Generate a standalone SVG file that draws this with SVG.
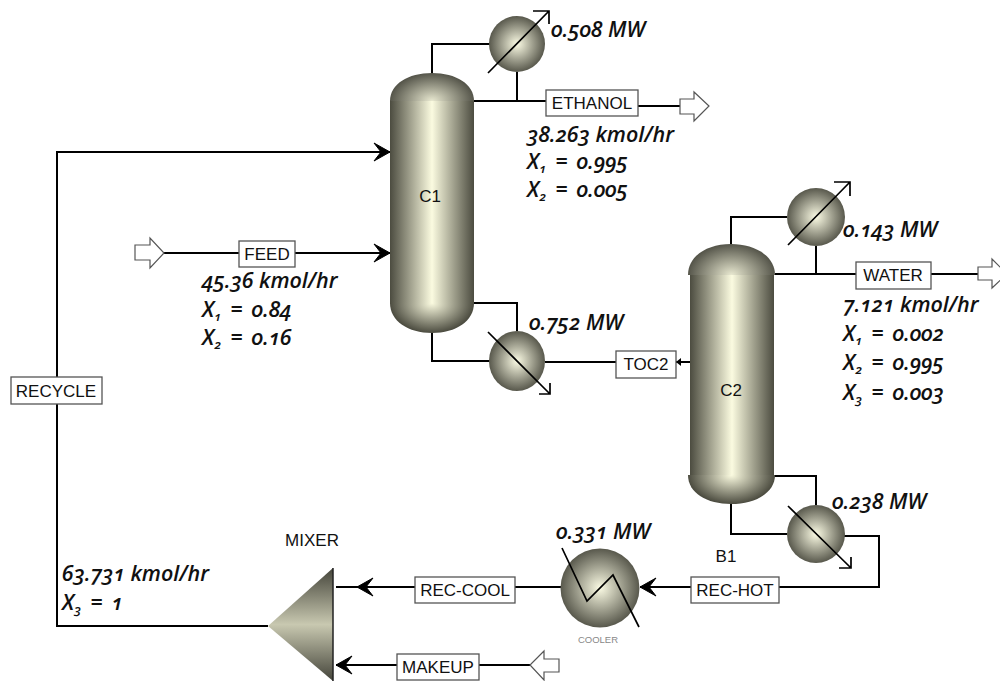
<svg xmlns="http://www.w3.org/2000/svg" width="1000" height="681" viewBox="0 0 1000 681">
<style>
.p{fill:none;stroke:#000;stroke-width:2}
.t{fill:none;stroke:#000;stroke-width:1.7}
.b{fill:#fff;stroke:#555;stroke-width:1.3}
.h{fill:#fff;stroke:#555;stroke-width:1.2}
.l{font-family:"Liberation Sans",Arial,sans-serif;font-size:17px;fill:#111;text-anchor:middle}
.q{font-family:"Open Sans",sans-serif;font-style:italic;font-weight:600;font-size:21.5px;fill:#111;font-variant-numeric:oldstyle-nums}
.x{word-spacing:3.5px}
.s{font-size:13px}
.c{fill:url(#col)}
.o{fill:url(#sph)}
</style>
<defs>
<linearGradient id="col" x1="0" x2="1" y1="0" y2="0"><stop offset="0" stop-color="#4c4c40"/><stop offset=".5" stop-color="#fbfbe0"/><stop offset="1" stop-color="#4c4c40"/></linearGradient>
<radialGradient id="top" cx=".5" cy="1" r="1" gradientTransform="translate(.5 1) scale(.5 1) translate(-.5 -1)"><stop offset="0" stop-color="#e8e8d0"/><stop offset="1" stop-color="#55554a"/></radialGradient>
<radialGradient id="bot" cx=".5" cy="0" r="1" gradientTransform="translate(.5 0) scale(.5 1) translate(-.5 0)"><stop offset="0" stop-color="#fbfbe0"/><stop offset="1" stop-color="#4c4c40"/></radialGradient>
<radialGradient id="sph" cx=".5" cy=".5" r=".5"><stop offset="0" stop-color="#fbfbe4"/><stop offset="1" stop-color="#58584c"/></radialGradient>
<linearGradient id="mix" x1="0" x2="0" y1="0" y2="1"><stop offset="0" stop-color="#44443a"/><stop offset=".5" stop-color="#c8c8b0"/><stop offset="1" stop-color="#44443a"/></linearGradient>
<marker id="bar" viewBox="0 0 18 20" refX="17" refY="10" markerWidth="18" markerHeight="20" markerUnits="userSpaceOnUse" orient="auto"><path d="M1 1 L17 10 L1 19 L8 10 Z" fill="#000" stroke="#000" stroke-width="1"/></marker>
</defs>

<g id="connectors">
<path class="p" d="M432 73V44H490"/>
<path class="p" d="M517 72V101"/>
<path class="p" d="M474 101H546"/>
<path class="p" d="M638 106H680"/>
<path class="p" d="M731 244V217H787"/>
<path class="p" d="M816 246V274"/>
<path class="p" d="M775 274H856"/>
<path class="p" d="M931 274H978"/>
<path class="p" d="M474 303H517V331"/>
<path class="p" d="M432 333V361H490"/>
<path class="p" d="M545 362H616"/>
<path class="p" d="M690 362H676"/>
<path d="M676 362L681 358V366Z"/>
<path class="p" d="M774 476H816V505"/>
<path class="p" d="M731 504V534H787"/>
<path class="p" d="M843 536H879V587H779"/>
<path class="p" d="M691 587H640" marker-end="url(#bar)"/>
<path class="p" d="M561 587H515"/>
<path class="p" d="M415 587H357" marker-end="url(#bar)"/>
<path class="p" d="M336 587H357"/>
<path class="p" d="M397 665H336" marker-end="url(#bar)"/>
<path class="p" d="M530 665H479"/>
<path class="p" d="M268 626H57V152H390" marker-end="url(#bar)"/>
<path class="p" d="M164 253H239"/>
<path class="p" d="M295 253H390" marker-end="url(#bar)"/>
</g>

<g id="C1">
<rect class="c" x="390" y="100" width="84" height="204"/>
<path d="M390 101C390 84 408 73 432 73C456 73 474 84 474 101Z" fill="url(#top)"/>
<path d="M390 303C390 321 408 333 432 333C456 333 474 321 474 303Z" fill="url(#bot)"/>
<text class="l" x="430" y="202">C1</text>
</g>
<g id="C2">
<rect class="c" x="690" y="274" width="84" height="202"/>
<path d="M688 275C688 256 707 244 731 244C755 244 775 256 775 275Z" fill="url(#top)"/>
<path d="M688 475C688 493 707 504 731 504C755 504 775 493 775 475Z" fill="url(#bot)"/>
<text class="l" x="731" y="396">C2</text>
</g>
<g id="COND1">
<circle class="o" cx="517" cy="44" r="28"/>
<path class="t" d="M488 73L549 11M533 11H549V24"/>
</g>
<g id="COND2">
<circle class="o" cx="816" cy="217" r="29"/>
<path class="t" d="M788 245L850 182M834 182H850V196"/>
</g>
<g id="REB1">
<ellipse class="o" cx="517" cy="361" rx="28" ry="30"/>
<path class="t" d="M488 332L550 394M539 394H550V383"/>
</g>
<g id="B1">
<circle class="o" cx="816" cy="534" r="29"/>
<path class="t" d="M788 506L851 568M839 568H851V557"/>
<text class="l" x="726" y="562">B1</text>
</g>
<g id="COOLER">
<circle class="o" cx="600" cy="588" r="39.5"/>
<path class="t" d="M562 548L587 601L613 575L639 627"/>
<text x="598" y="643" style="font-family:'Liberation Sans',sans-serif;font-size:9.5px;fill:#888;text-anchor:middle">COOLER</text>
</g>
<g id="MIXER">
<path d="M268 626L333 568V681Z" fill="url(#mix)"/>
<path d="M333 568V681" stroke="#222" stroke-width="1.5"/>
<text class="l" x="312" y="546">MIXER</text>
</g>

<g id="FEED"><path class="h" d="M135 245H150V238L164 253L150 268V260H135Z"/><rect class="b" x="239" y="241" width="56" height="26"/><text class="l" x="267" y="260">FEED</text></g>
<g id="ETHANOL"><rect class="b" x="546" y="90" width="92" height="26"/><text class="l" x="592" y="109">ETHANOL</text><path class="h" d="M680 99H694V92L709 106L694 121V114H680Z"/></g>
<g id="WATER"><rect class="b" x="856" y="262" width="75" height="27"/><text class="l" x="893" y="281">WATER</text><path class="h" d="M978 267H992V259L1007 274L992 288V280H978Z"/></g>
<g id="TOC2"><rect class="b" x="616" y="351" width="60" height="27"/><text class="l" x="646" y="370">TOC2</text></g>
<g id="RECYCLE"><rect class="b" x="11" y="377" width="91" height="27"/><text class="l" x="56" y="397">RECYCLE</text></g>
<g id="REC-HOT"><rect class="b" x="691" y="577" width="88" height="26"/><text class="l" x="735" y="596">REC-HOT</text></g>
<g id="REC-COOL"><rect class="b" x="415" y="577" width="100" height="26"/><text class="l" x="465" y="596">REC-COOL</text></g>
<g id="MAKEUP"><rect class="b" x="397" y="654" width="82" height="26"/><text class="l" x="438" y="673">MAKEUP</text><path class="h" d="M559 659H544V651L530 665L544 680V672H559Z"/></g>

<g id="labels">
<text class="q" x="551" y="37">0.508 MW</text>
<text class="q" x="527" y="142">38.263 kmol/hr</text>
<text class="q x" x="527" y="169">X<tspan class="s" dy="4">1</tspan><tspan dy="-4"> = 0.995</tspan></text>
<text class="q x" x="527" y="197">X<tspan class="s" dy="4">2</tspan><tspan dy="-4"> = 0.005</tspan></text>
<text class="q" x="843" y="237">0.143 MW</text>
<text class="q" x="843" y="312">7.121 kmol/hr</text>
<text class="q x" x="843" y="341">X<tspan class="s" dy="4">1</tspan><tspan dy="-4"> = 0.002</tspan></text>
<text class="q x" x="843" y="370">X<tspan class="s" dy="4">2</tspan><tspan dy="-4"> = 0.995</tspan></text>
<text class="q x" x="843" y="400">X<tspan class="s" dy="4">3</tspan><tspan dy="-4"> = 0.003</tspan></text>
<text class="q" x="529" y="330">0.752 MW</text>
<text class="q" x="832" y="509">0.238 MW</text>
<text class="q" x="556" y="539">0.331 MW</text>
<text class="q" x="202" y="288">45.36 kmol/hr</text>
<text class="q x" x="202" y="317">X<tspan class="s" dy="4">1</tspan><tspan dy="-4"> = 0.84</tspan></text>
<text class="q x" x="202" y="345">X<tspan class="s" dy="4">2</tspan><tspan dy="-4"> = 0.16</tspan></text>
<text class="q" x="62" y="581">63.731 kmol/hr</text>
<text class="q x" x="62" y="610">X<tspan class="s" dy="4">3</tspan><tspan dy="-4"> = 1</tspan></text>
</g>
</svg>
